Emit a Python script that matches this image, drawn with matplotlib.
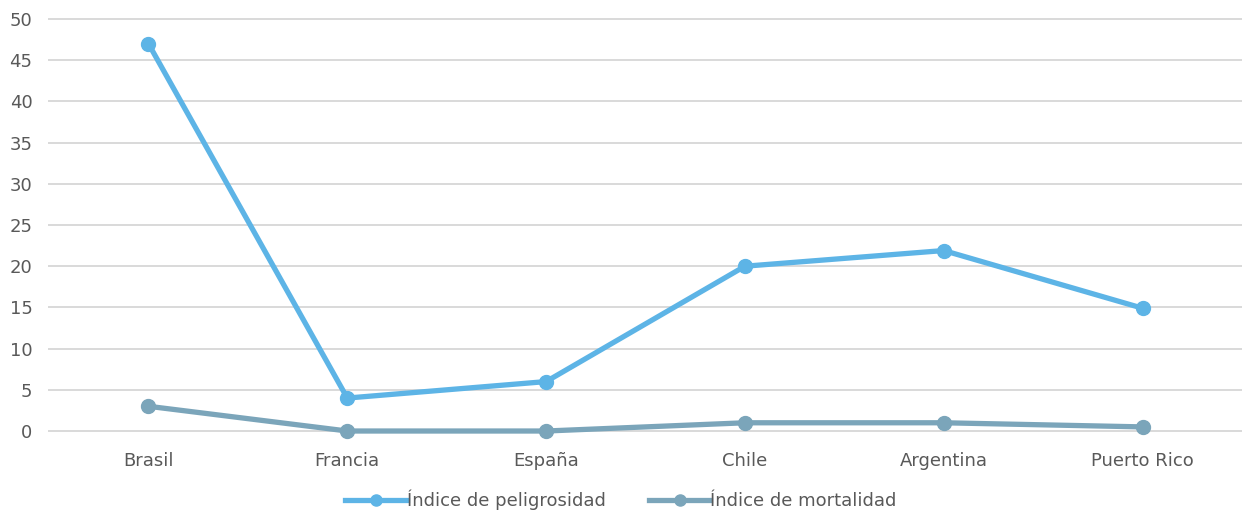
import matplotlib
matplotlib.use("Agg")
import matplotlib.pyplot as plt
from matplotlib.lines import Line2D

categories = ["Brasil", "Francia", "España", "Chile", "Argentina", "Puerto Rico"]
peligrosidad = [47, 4, 6, 20, 21.9, 14.9]
mortalidad = [3, 0, 0, 1, 1, 0.5]
yticks = [0, 5, 10, 15, 20, 25, 30, 35, 40, 45, 50]

plt.rcParams['font.family'] = ['DejaVu Sans']
text_color = "#595959"
c1 = "#5DB4E6"
c2 = "#7BA5BA"

fig = plt.figure(figsize=(12.42, 5.16), dpi=100)
ax = fig.add_axes([0.0395, 0.1647, 0.9605, 0.7985])

x = list(range(len(categories)))
ax.plot(x, peligrosidad, color=c1, lw=3.8, marker="o", ms=10,
        solid_capstyle="round", zorder=3, clip_on=False)
ax.plot(x, mortalidad, color=c2, lw=3.8, marker="o", ms=10,
        solid_capstyle="round", zorder=3, clip_on=False)

ax.set_xlim(-0.5, len(categories) - 0.5)
ax.set_ylim(0, 50)
ax.set_yticks(yticks)
ax.set_xticks(x)
ax.set_xticklabels(categories)
ax.tick_params(length=0, labelsize=13, colors=text_color)
ax.tick_params(axis='x', pad=15)
ax.tick_params(axis='y', pad=12)
ax.grid(axis='y', color="#D9D9D9", lw=1.4)
for gl in ax.get_ygridlines():
    gl.set_clip_on(False)
ax.set_axisbelow(True)
for s in ax.spines.values():
    s.set_visible(False)

handles = [
    Line2D([], [], color=c1, lw=3.8, marker="o", ms=8, label="Índice de peligrosidad"),
    Line2D([], [], color=c2, lw=3.8, marker="o", ms=8, label="Índice de mortalidad"),
]
leg = fig.legend(handles=handles, loc="lower center", bbox_to_anchor=(0.5, -0.02), ncol=2,
                 frameon=False, fontsize=13, handlelength=3.4,
                 handletextpad=0.0, columnspacing=2.4)
for t in leg.get_texts():
    t.set_color(text_color)

fig.savefig("out.png", dpi=100)
